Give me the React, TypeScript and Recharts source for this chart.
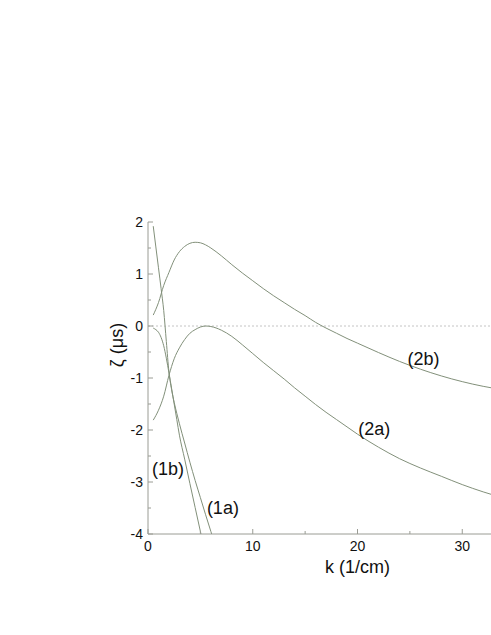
import React from 'react';
import { LineChart, Line, XAxis, YAxis, ReferenceLine, ReferenceDot, Label } from 'recharts';

// k values (1/cm) for the steep branches (1a), (1b)
const k1 = [0.5, 0.75, 1, 1.25, 1.5, 1.75, 2, 2.25, 2.5, 2.75, 3, 3.5, 4, 4.5, 5, 5.5, 6, 6.5];
const zeta1a = [1.92, 1.52, 1.12, 0.72, 0.3, -0.3, -0.88, -1.22, -1.47, -1.68, -1.88, -2.25, -2.62, -2.97, -3.3, -3.63, -3.95, -4.27];
const zeta1b = [-0.04, -0.07, -0.12, -0.22, -0.38, -0.62, -0.9, -1.2, -1.5, -1.8, -2.1, -2.56, -3.03, -3.49, -3.95, -4.4, -4.85, -5.3];

// k values for the broad branches (2a), (2b)
const k2 = [0.5, 1, 1.5, 2, 2.5, 3, 3.5, 4, 4.5, 5, 5.5, 6, 7, 8, 9, 10, 11, 12, 13, 14, 15, 16, 17, 18, 19, 20, 22, 24, 26, 28, 30, 32, 34, 36, 38, 40];
const zeta2a = [-1.81, -1.62, -1.35, -0.95, -0.63, -0.42, -0.26, -0.14, -0.07, -0.02, 0, -0.01, -0.08, -0.2, -0.36, -0.53, -0.7, -0.86, -1.02, -1.19, -1.35, -1.51, -1.66, -1.8, -1.94, -2.08, -2.33, -2.55, -2.73, -2.89, -3.05, -3.19, -3.31, -3.42, -3.52, -3.61];
const zeta2b = [0.21, 0.45, 0.78, 1.03, 1.27, 1.43, 1.53, 1.59, 1.61, 1.6, 1.56, 1.5, 1.35, 1.18, 1.02, 0.87, 0.72, 0.58, 0.45, 0.32, 0.2, 0.07, -0.04, -0.14, -0.24, -0.33, -0.51, -0.68, -0.83, -0.96, -1.07, -1.16, -1.23, -1.29, -1.34, -1.38];

// only the ticks that fall inside the visible part of the axis
const xTicks = [0, 5, 10, 15, 20, 25, 30];
const yTicks = [-4, -3.5, -3, -2.5, -2, -1.5, -1, -0.5, 0, 0.5, 1, 1.5, 2];

// curve labels: [text, k, zeta]
const curveLabels: [string, number, number][] = [
  ['(2b)', 26.3, -0.62],
  ['(2a)', 21.6, -1.98],
  ['(1b)', 1.9, -2.75],
  ['(1a)', 7.15, -3.5],
];

const FONT = '"Liberation Sans", Arial, Helvetica, sans-serif';
const AXIS = '#9a9c94';
const CURVE = '#82907a';
const TEXT = '#111';

const data1a = k1.map((k, i) => ({ k, z: zeta1a[i] }));
const data1b = k1.map((k, i) => ({ k, z: zeta1b[i] }));
const data2a = k2.map((k, i) => ({ k, z: zeta2a[i] }));
const data2b = k2.map((k, i) => ({ k, z: zeta2b[i] }));

const BottomTick = ({ x, y, payload }: any) => {
  const major = payload.value % 10 === 0;
  return (
    <g>
      <line x1={x} x2={x} y1={y} y2={y - (major ? 5 : 3)} stroke={AXIS} />
      {major && (
        <text x={x} y={y + 17} textAnchor="middle" fontSize={14} fontFamily={FONT} fill={TEXT}>
          {payload.value}
        </text>
      )}
    </g>
  );
};

const TopTick = ({ x, y, payload }: any) => {
  const major = payload.value % 10 === 0;
  return <line x1={x} x2={x} y1={y} y2={y + (major ? 5 : 3)} stroke={AXIS} />;
};

const LeftTick = ({ x, y, payload }: any) => {
  const major = payload.value % 1 === 0;
  return (
    <g>
      <line x1={x} x2={x + (major ? 5 : 3)} y1={y} y2={y} stroke={AXIS} />
      {major && (
        <text x={x - 5} y={y + 5} textAnchor="end" fontSize={14} fontFamily={FONT} fill={TEXT}>
          {payload.value}
        </text>
      )}
    </g>
  );
};

const YTitle = ({ viewBox }: any) => {
  const cx = viewBox.x + 18;
  const cy = viewBox.y + viewBox.height / 2 - 33;
  return (
    <text x={cx} y={cy} transform={`rotate(-90 ${cx} ${cy})`} textAnchor="middle" dominantBaseline="middle"
      fontSize={18} fontFamily={FONT} fill={TEXT}>
      ζ (μs)
    </text>
  );
};

const App: React.FC = () => {
  return (
    <div style={{ position: 'absolute', left: 0, top: 0, width: 491, height: 635, overflow: 'hidden', background: '#fff' }}>
      <LineChart width={572} height={635} margin={{ top: 222, right: 5, bottom: 51, left: 100 }}>
        <XAxis
          dataKey="k"
          type="number"
          domain={[0, 40]}
          ticks={xTicks}
          interval={0}
          tickSize={0}
          tickMargin={0}
          tickLine={false}
          tick={<BottomTick />}
          stroke={AXIS}
          height={50}
        >
          <Label value="k (1/cm)" position="insideBottom" offset={11} fontSize={18} fontFamily={FONT} fill={TEXT} />
        </XAxis>
        <XAxis
          xAxisId="top"
          orientation="top"
          dataKey="k"
          type="number"
          domain={[0, 40]}
          ticks={xTicks}
          interval={0}
          tickSize={0}
          tickMargin={0}
          tickLine={false}
          tick={<TopTick />}
          stroke={AXIS}
          height={0}
        />
        <YAxis
          type="number"
          domain={[-4, 2]}
          allowDataOverflow
          ticks={yTicks}
          interval={0}
          tickSize={0}
          tickMargin={0}
          tickLine={false}
          tick={<LeftTick />}
          stroke={AXIS}
          width={48}
          label={<YTitle />}
        />
        <ReferenceLine y={0} stroke="#c4c4c4" strokeDasharray="2 2" />
        <Line data={data2b} dataKey="z" type="monotone" stroke={CURVE} strokeWidth={1} dot={false} isAnimationActive={false} />
        <Line data={data2a} dataKey="z" type="monotone" stroke={CURVE} strokeWidth={1} dot={false} isAnimationActive={false} />
        <Line data={data1a} dataKey="z" type="monotone" stroke={CURVE} strokeWidth={1} dot={false} isAnimationActive={false} />
        <Line data={data1b} dataKey="z" type="monotone" stroke={CURVE} strokeWidth={1} dot={false} isAnimationActive={false} />
        {curveLabels.map(([text, k, z]) => (
          <ReferenceDot key={text} x={k} y={z} r={0} fill="none" stroke="none">
            <Label value={text} position="center" fontSize={18} fontFamily={FONT} fill={TEXT} />
          </ReferenceDot>
        ))}
      </LineChart>
    </div>
  );
};

export default App;
